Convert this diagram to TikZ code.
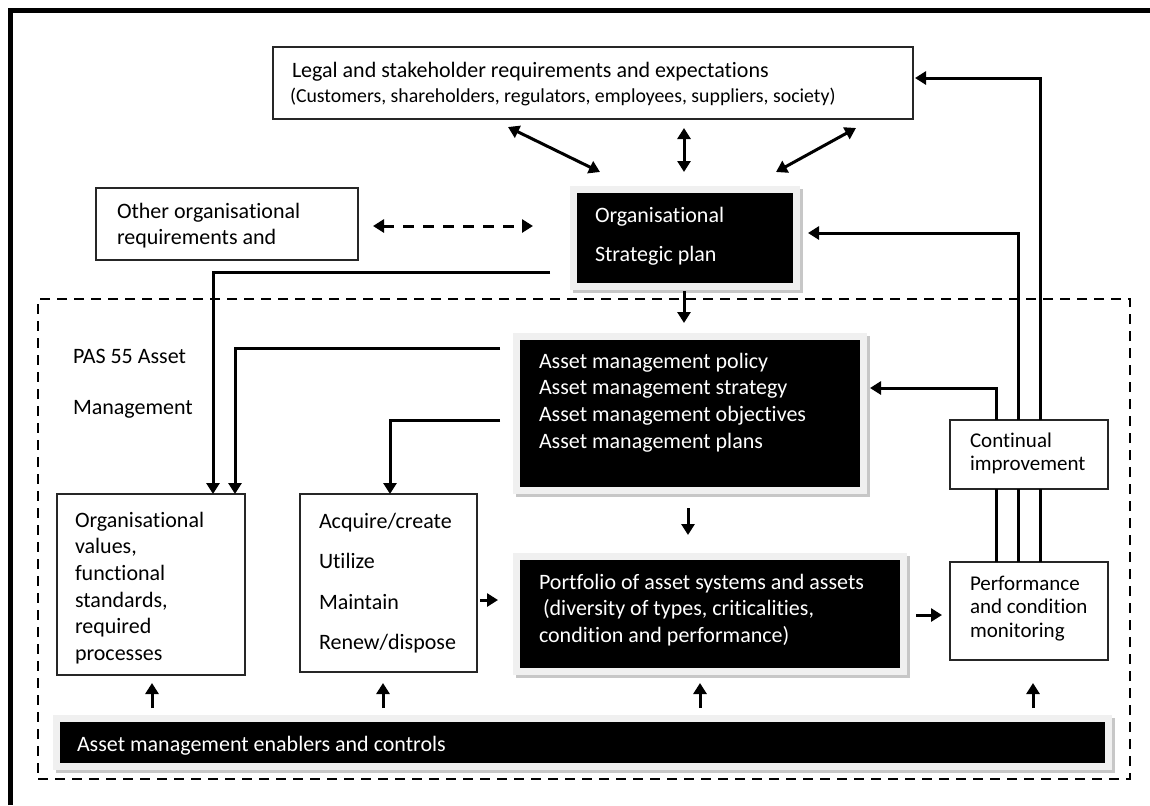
\documentclass[tikz,border=0pt]{standalone}
\usepackage{fontspec}
\setmainfont{Carlito}[Ligatures={NoCommon}]
\usetikzlibrary{arrows.meta,calc,fit}

\definecolor{panelframe}{gray}{0.94}
\definecolor{panelshadow}{gray}{0.78}

% black panel with a light frame and a soft drop shadow
\newcommand\blackpanel[5]{%
  \fill[panelshadow] ({#2-4},{#3-4}) rectangle ({#4+10},{#5+10});
  \fill[panelframe] ({#2-7},{#3-7}) rectangle ({#4+7},{#5+7});
  \node[blackbox, fit={(#2,#3) (#4,#5)}] (#1) {};
}

\begin{document}
\begin{tikzpicture}[x=0.5pt,y=-0.5pt,
  every node/.style={inner sep=0pt, outer sep=0pt},
  wbox/.style={draw=black!85, line width=1pt, fill=white, inner sep=0pt},
  blackbox/.style={fill=black, draw=none, inner sep=0pt},
  txt/.style={anchor=north west, align=left, font=\fontsize{11}{13.3}\selectfont},
  wtxt/.style={txt, text=white},
  stxt/.style={anchor=north west, align=left, font=\fontsize{10.5}{11.7}\selectfont},
  tip/.tip={Triangle[length=5.5pt,width=6.5pt]},
  conn/.style={line width=1.5pt, -tip},
  link/.style={line width=1.5pt},
  both/.style={line width=1.5pt, tip-tip},
  dashlink/.style={line width=1.5pt, tip-tip, dash pattern=on 5.5pt off 4.5pt},
  region/.style={draw=black, line width=1pt, dash pattern=on 5pt off 3.5pt, inner sep=0pt}
]
\useasboundingbox (0,0) rectangle (1150,805);

% outer frame (left and top edges)
\draw[line width=2.5pt] (10.5,805) -- (10.5,10.5) -- (1150,10.5);

% PAS 55 region
\node[region, fit={(38,299) (1130,779)}] (pas) {};

% white boxes
\node[wbox, fit={(273,47) (913,119)}] (legal) {};
\node[wbox, fit={(96,188) (358,260)}] (other) {};
\node[wbox, fit={(57,494) (245,675)}] (vals) {};
\node[wbox, fit={(300,494) (477,672)}] (acq) {};
\node[wbox, fit={(950,420) (1108,489)}] (ci) {};
\node[wbox, fit={(950,562) (1108,660)}] (perf) {};

% black panels
\blackpanel{org}{577}{193}{793}{283}
\blackpanel{am}{520}{340}{860}{487}
\blackpanel{pf}{520}{560}{900}{668}
\blackpanel{en}{60}{722}{1105}{763}

% texts
\node[txt] (legalA) at (292,62) {Legal and stakeholder requirements and expectations};
\node[anchor=north west, font=\fontsize{9.9}{12}\selectfont] (legalB) at (290,88) {(Customers, shareholders, regulators, employees, suppliers, society)};
\node[txt] (othert) at (117,203) {Other organisational\\requirements and};
\node[wtxt] (orgt) at (595,207) {Organisational\\[6.2pt]Strategic plan};
\node[txt] (past) at (73,349) {PAS 55 Asset\\[12.2pt]Management};
\node[wtxt] (amt) at (539,353) {Asset management policy\\Asset management strategy\\Asset management objectives\\Asset management plans};
\node[txt] (valst) at (75,512) {Organisational\\values,\\functional\\standards,\\required\\processes};
\node[txt] (acqt) at (319,513) {Acquire/create\\[6.9pt]Utilize\\[6.9pt]Maintain\\[6.9pt]Renew/dispose};
\node[wtxt] (pft) at (539,574) {Portfolio of asset systems and assets\\\hspace{2pt}(diversity of types, criticalities,\\condition and performance)};
\node[stxt] (cit) at (970,433) {Continual\\improvement};
\node[stxt] (perft) at (970,576) {Performance\\and condition\\monitoring};
\node[wtxt] (ent) at (77,736) {Asset management enablers and controls};

% stakeholders <-> strategic plan
\draw[both] ($(legal.south)+(-85,8)$) -- ($(org.north west)+(23,-21)$);
\draw[both] ($(legal.south)+(91,9)$) -- ($(org.north)+(-1,-21)$);
\draw[both] ($(legal.south east)+(-57,9)$) -- ($(org.north east)+(-17,-21)$);

% other requirements <-> strategic plan
\draw[dashlink] ($(other.east)+(15,2)$) -- ($(org.west |- other.east)+(-44,2)$);

% strategic plan -> values, -> policy
\draw[conn] ($(org.south west)+(-27,-11)$) -| ($(vals.north east)+(-32,0)$);
\draw[conn] ($(org.south)+(-1,8)$) -- ($(org.south)+(-1,40)$);

% policy -> values, -> lifecycle
\draw[conn] ($(am.north west)+(-20,8)$) -| ($(vals.north east)+(-10,0)$);
\draw[conn] ($(am.west)+(-20,6.5)$) -| ($(acq.north)+(1.5,0)$);

% policy -> portfolio
\draw[conn] ($(am.south)+(-2,21)$) -- ($(pf.north)+(-22,-25)$);

% lifecycle -> portfolio -> monitoring
\draw[conn] ($(acq.east)+(3,17)$) -- ($(pf.west)+(-22,-14)$);
\draw[conn] ($(pf.east)+(16,1)$) -- ($(perf.west)+(-8,4)$);

% monitoring -> continual improvement
\foreach \dx in {46,68,90}
  \draw[link] ($(perf.north west)+(\dx,0)$) -- ($(ci.south west)+(\dx,0)$);

% continual improvement feedback
\draw[conn] ($(ci.north west)+(46,0)$) |- ($(am.east)+(10,-25.5)$);
\draw[conn] ($(ci.north west)+(68,0)$) |- ($(org.east)+(15,-5)$);
\draw[conn] ($(ci.north west)+(90,0)$) |- ($(legal.east)+(2,-5)$);

% enablers and controls
\draw[conn] ($(vals.south |- en.north)+(1,-14)$) -- ($(vals.south)+(1,8)$);
\draw[conn] ($(acq.south |- en.north)+(-5.5,-14)$) -- ($(acq.south)+(-5.5,11)$);
\draw[conn] ($(pf.south |- en.north)+(-10,-14)$) -- ($(pf.south)+(-10,15)$);
\draw[conn] ($(perf.south |- en.north)+(4,-14)$) -- ($(perf.south)+(4,23)$);
\end{tikzpicture}
\end{document}
